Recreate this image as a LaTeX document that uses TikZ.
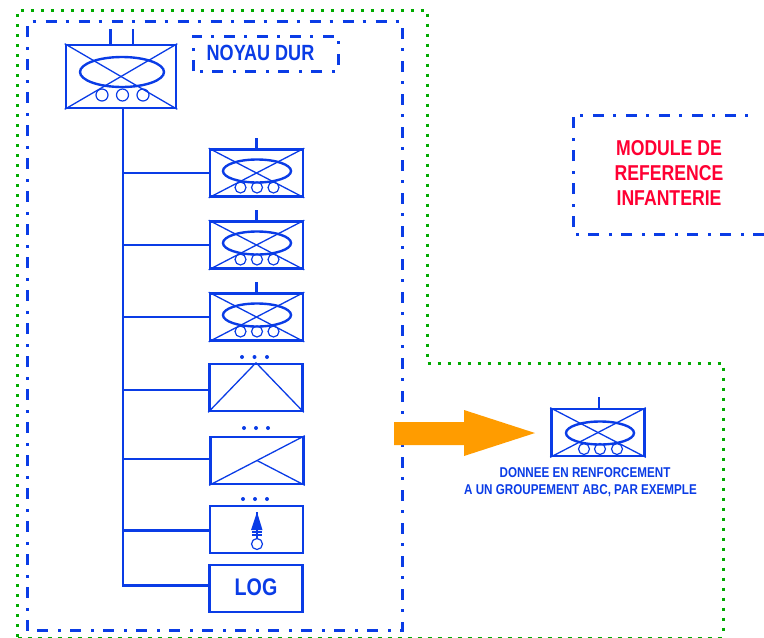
\documentclass[tikz,border=0pt]{standalone}
\usepackage{fontspec}
\setmainfont[FakeStretch=0.82]{Liberation Sans}
\usetikzlibrary{shapes.geometric}
\definecolor{bleu}{HTML}{0A3CE6}
\definecolor{vert}{HTML}{00AA00}
\definecolor{rouge}{HTML}{FF0033}
\definecolor{orange2}{HTML}{FF9C00}
\begin{document}
\begin{tikzpicture}[x=1pt, y=-1pt, bleu,
  unitbox/.style={draw, rectangle, line width=2.6pt, minimum width=93pt, minimum height=47pt, inner sep=0},
  bigbox/.style={draw, rectangle, line width=2.6pt, minimum width=110pt, minimum height=63pt, inner sep=0},
  oval/.style={draw, ellipse, line width=2.4pt, minimum width=68pt, minimum height=23pt, inner sep=0},
  rond/.style={draw, circle, line width=1.2pt, minimum size=11pt, inner sep=0},
  pt/.style={fill, circle, minimum size=4pt, inner sep=0},
  croix/.style={line width=1.3pt},
  trait/.style={line width=2.8pt},
  cadre/.style={line width=3pt, dash pattern=on 11pt off 9pt on 3pt off 10pt},
  titre/.style={font=\bfseries\fontsize{22}{25}\selectfont, align=center, inner sep=0},
  note/.style={font=\bfseries\fontsize{14.2}{18}\selectfont, inner sep=0}]
\useasboundingbox (0,0) rectangle (764,638);

\draw[vert, line width=3pt, dash pattern=on 3pt off 7pt] (17.5,637) -- (17.5,10) -- (427,10) -- (427,363) -- (723,363) -- (723,637);
\draw[vert, line width=1pt, dash pattern=on 4pt off 6pt] (17.5,637) -- (723,637);
\draw[cadre] (27.5,630.5) -- (27.5,21.5) -- (402,21.5) -- (402,630.5) -- cycle;
\draw[cadre] (193,71) -- (193,36) -- (338,36) -- (338,71) -- cycle;
\draw[cadre] (764,234) -- (573,234) -- (573,115) -- (757,115);

\node[titre] (noyau) at (260.5,53){NOYAU DUR};
\node[titre, rouge, font=\bfseries\fontsize{21.5}{25}\selectfont] (module) at (669,172.5){MODULE DE\\REFERENCE\\INFANTERIE};

% compagnie de tete
\node[bigbox] (uni0) at (121,76.5){};
\draw[croix] (uni0.north west) -- (uni0.south east);
\draw[croix] (uni0.south west) -- (uni0.north east);
\node[oval, minimum width=84pt, minimum height=30pt] (ova0) at (122,72){};
\node[rond, minimum size=12pt] (ron01) at (102,95){};
\node[rond, minimum size=12pt] (ron02) at (122.5,95){};
\node[rond, minimum size=12pt] (ron03) at (143,95){};
\draw[trait] (110.5,29) -- (110.5,44);
\draw[trait] (133,29) -- (133,44);

\node[unitbox] (uni1) at (256.5,173){};
\draw[croix] (uni1.north west) -- (uni1.south east);
\draw[croix] (uni1.south west) -- (uni1.north east);
\node[oval] (ova1) at (257,171){};
\node[rond] (ron11) at (240.5,187.5){};
\node[rond] (ron12) at (257,187.5){};
\node[rond] (ron13) at (273.5,187.5){};
\draw[trait] (256.5,138) -- (uni1.north);

\node[unitbox] (uni2) at (256.5,245){};
\draw[croix] (uni2.north west) -- (uni2.south east);
\draw[croix] (uni2.south west) -- (uni2.north east);
\node[oval] (ova2) at (257,243){};
\node[rond] (ron21) at (240.5,259.5){};
\node[rond] (ron22) at (257,259.5){};
\node[rond] (ron23) at (273.5,259.5){};
\draw[trait] (256.5,210) -- (uni2.north);

\node[unitbox] (uni3) at (256.5,317){};
\draw[croix] (uni3.north west) -- (uni3.south east);
\draw[croix] (uni3.south west) -- (uni3.north east);
\node[oval] (ova3) at (257,315){};
\node[rond] (ron31) at (240.5,331.5){};
\node[rond] (ron32) at (257,331.5){};
\node[rond] (ron33) at (273.5,331.5){};
\draw[trait] (256.5,282) -- (uni3.north);

\node[unitbox] (uni4) at (256,387.5){};
\draw[croix] (uni4.south west) -- (uni4.north);
\draw[croix] (uni4.north) -- (uni4.south east);
\node[pt] (pt41) at (242,357){};
\node[pt] (pt42) at (254.5,357){};
\node[pt] (pt43) at (267,357){};

\node[unitbox] (uni5) at (257,460.5){};
\draw[croix] (uni5.south west) -- (uni5.center);
\draw[croix] (uni5.center) -- (uni5.north east);
\draw[croix] (uni5.center) -- (uni5.south east);
\node[pt] (pt51) at (244,428){};
\node[pt] (pt52) at (256,428){};
\node[pt] (pt53) at (268,428){};

\node[unitbox] (uni6) at (256.5,529.5){};
\node[rond] (ron6) at (257,544){};
\coordinate (pointe) at (257,512);
\fill (pointe) -- (262.5,530) -- (251,530) -- cycle;
\draw[croix] (pointe) -- (ron6.north);
\draw[croix] (252,532) -- (262,532);
\draw[croix] (252,535) -- (262,535);
\node[pt] (pt61) at (243,499){};
\node[pt] (pt62) at (255,499){};
\node[pt] (pt63) at (267,499){};

\node[unitbox, font=\bfseries\fontsize{24}{24}\selectfont] (log) at (256,588.5){\raisebox{2.5pt}{LOG}};

% liaisons
\coordinate (haut) at (123,109);
\draw[trait] (haut) |- (uni1.west);
\draw[trait] (haut) |- (uni2.west);
\draw[trait] (haut) |- (uni3.west);
\draw[trait] (haut) |- ([yshift=-2.5pt]uni4.west);
\draw[trait] (haut) |- ([yshift=1.5pt]uni5.west);
\draw[trait] (haut) |- ([yshift=-1pt]uni6.west);
\draw[trait] (haut) |- ([yshift=3pt]log.west);

% renfort
\fill[orange2] (394,422) -- (464,422) -- (464,410) -- (535,433) -- (464,456) -- (464,445) -- (394,445) -- cycle;
\node[unitbox] (uni7) at (598,432.5){};
\draw[croix] (uni7.north west) -- (uni7.south east);
\draw[croix] (uni7.south west) -- (uni7.north east);
\node[oval] (ova7) at (600,433){};
\node[rond] (ron71) at (584,449){};
\node[rond] (ron72) at (600,449){};
\node[rond] (ron73) at (617,449){};
\draw[trait] (599,397) -- (599,408);
\node[note] (renfort1) at (585,473){DONNEE EN RENFORCEMENT};
\node[note] (renfort2) at (580.5,491){A UN GROUPEMENT ABC, PAR EXEMPLE};

\end{tikzpicture}
\end{document}
